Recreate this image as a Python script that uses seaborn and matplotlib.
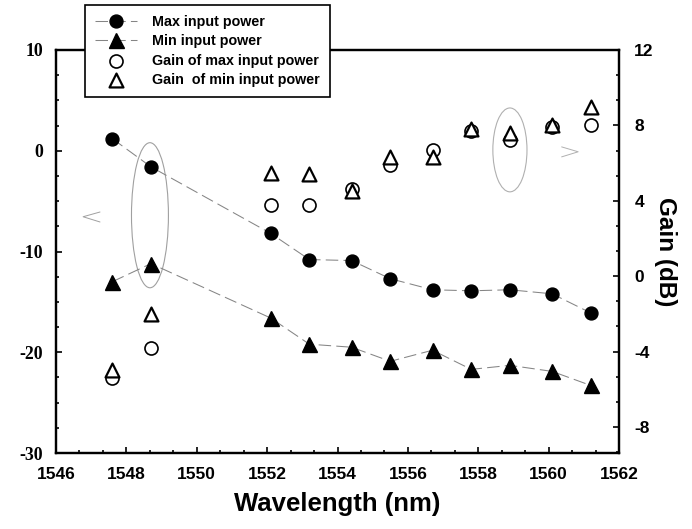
import numpy as np
import pandas as pd
import matplotlib
matplotlib.use('Agg')
import matplotlib.pyplot as plt
from matplotlib.patches import Ellipse
from matplotlib.ticker import AutoMinorLocator, MultipleLocator
import seaborn as sns

# data
wavelength = [1547.6, 1548.7, 1552.1, 1553.2, 1554.4, 1555.5, 1556.7, 1557.8, 1558.9, 1560.1, 1561.2]
max_power = [1.2, -1.6, -8.2, -10.8, -10.9, -12.7, -13.8, -13.9, -13.8, -14.2, -16.1]
min_power = [-13.0, -11.2, -16.6, -19.2, -19.5, -20.9, -19.8, -21.7, -21.3, -21.9, -23.3]
gain_max = [-5.4, -3.8, 3.8, 3.8, 4.6, 5.9, 6.7, 7.7, 7.2, 7.9, 8.0]
gain_min = [-5.0, -2.0, 5.5, 5.4, 4.5, 6.3, 6.3, 7.8, 7.6, 8.0, 9.0]

labels = ['Max input power', 'Min input power',
          'Gain of max input power', 'Gain  of min input power']

df = pd.DataFrame({'wavelength': wavelength, 'max_power': max_power,
                   'min_power': min_power, 'gain_max': gain_max,
                   'gain_min': gain_min})

sns.set_style('ticks', rc={'axes.edgecolor': 'black', 'xtick.color': 'black',
                           'ytick.color': 'black', 'text.color': 'black',
                           'axes.labelcolor': 'black'})
plt.rcParams['font.family'] = ['Liberation Sans', 'DejaVu Sans']
plt.rcParams['font.weight'] = 'bold'
plt.rcParams['axes.unicode_minus'] = False

fig = plt.figure(figsize=(6.92, 5.29), dpi=100)
ax = fig.add_axes([56 / 692, 1 - 453 / 529, (619 - 56) / 692, (453 - 50) / 529])
ax2 = ax.twinx()

line_kw = dict(color='#858585', lw=0.75, linestyle=(0, (12, 5)),
               markerfacecolor='black', markeredgecolor='black',
               markeredgewidth=1, legend=False)
sns.lineplot(data=df, x='wavelength', y='max_power', ax=ax, marker='o',
             markersize=9.3, label=labels[0], **line_kw)
sns.lineplot(data=df, x='wavelength', y='min_power', ax=ax, marker='^',
             markersize=10.8, label=labels[1], **line_kw)

sc_kw = dict(color='white', edgecolor='black', legend=False, zorder=3)
sns.scatterplot(data=df, x='wavelength', y='gain_max', ax=ax2, marker='o',
                s=88, linewidth=1.2, label=labels[2], **sc_kw)
sns.scatterplot(data=df, x='wavelength', y='gain_min', ax=ax2, marker='^',
                s=100, linewidth=1.6, label=labels[3], **sc_kw)

# annotation marks (ellipses and chevrons pointing at the axes)
ax.add_patch(Ellipse((1548.67, -6.4), 1.05, 14.4, fill=False, ec='#a0a0a0', lw=0.8))
ax.plot([1547.25, 1546.77, 1547.25], [-6.08, -6.55, -7.07], color='#a0a0a0', lw=0.7)
ax2.add_patch(Ellipse((1558.9, 6.7), 0.97, 4.45, fill=False, ec='#b0b0b0', lw=0.8))
ax2.plot([1560.37, 1560.84, 1560.37], [6.86, 6.6, 6.33], color='#b0b0b0', lw=0.7)

ax.set_xlim(1546, 1562)
ax.set_ylim(-30, 10)
ax2.set_ylim(-9.38, 12)
ax.xaxis.set_major_locator(MultipleLocator(2))
ax.xaxis.set_minor_locator(AutoMinorLocator(3))
ax.yaxis.set_major_locator(MultipleLocator(10))
ax.yaxis.set_minor_locator(AutoMinorLocator(4))
ax2.yaxis.set_major_locator(MultipleLocator(4))
ax2.yaxis.set_minor_locator(AutoMinorLocator(3))

ax.tick_params(axis='both', which='both', direction='in', width=1.2, top=False, right=False)
ax.tick_params(which='major', length=4)
ax.tick_params(which='minor', length=2.5)
ax.tick_params(axis='x', labelsize=12.5, pad=10)
ax.tick_params(axis='y', labelsize=12.8, pad=9, labelfontfamily='Liberation Serif')
ax2.tick_params(axis='y', which='both', direction='in', width=1.2, labelsize=12.5, pad=11)
ax2.tick_params(axis='y', which='major', length=4)
ax2.tick_params(axis='y', which='minor', length=2.5)

for a in (ax, ax2):
    for sp in a.spines.values():
        sp.set_linewidth(1.6)

ax.set_xlabel('Wavelength (nm)', fontsize=18.5, fontweight='bold', labelpad=7)
ax.set_ylabel('')
ax2.set_xlabel('')
ax2.set_ylabel('Gain (dB)', rotation=270, va='bottom', fontsize=17.5,
               fontweight='bold', labelpad=0)

h1, l1 = ax.get_legend_handles_labels()
h2, l2 = ax2.get_legend_handles_labels()
leg = ax2.legend(h1 + h2, l1 + l2, loc='upper left',
                 bbox_to_anchor=(85 / 692, 1 - 5 / 529), bbox_transform=fig.transFigure,
                 frameon=True, fancybox=False, edgecolor='black', framealpha=1,
                 borderaxespad=0, handlelength=2.9, handletextpad=1.1,
                 labelspacing=0.37, borderpad=0.7,
                 prop={'family': 'Liberation Sans', 'weight': 'bold', 'size': 10.3})
leg.get_frame().set_linewidth(1.2)

plt.savefig('out.png', dpi=100)
